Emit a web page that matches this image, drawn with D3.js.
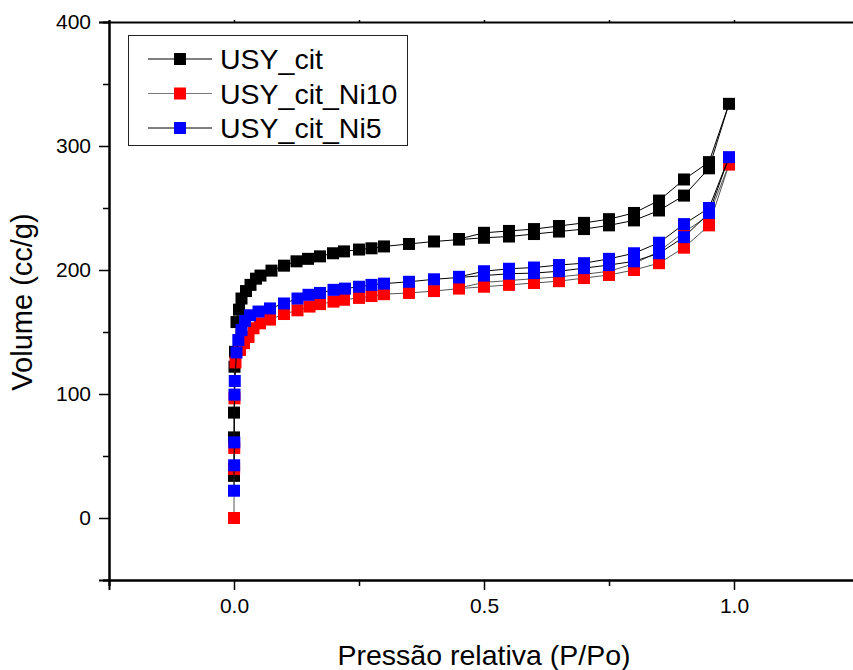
<!DOCTYPE html>
<html lang="en">
<head>
<meta charset="UTF-8">
<title>Isotermas</title>
<script src="https://d3js.org/d3.v7.min.js"></script>
<style>
  body { margin: 0; background: #fff; }
  svg { display: block; font-family: "Liberation Sans", Arial, sans-serif; }
</style>
</head>
<body>
<div id="container"></div>
<script>
// series names
const seriesNames = ["USY_cit", "USY_cit_Ni10", "USY_cit_Ni5"];

// relative pressure (P/Po) and adsorbed volume (cc/g), adsorption then desorption
const pBlack = [0, 0, 0, 0.001, 0.002, 0.005, 0.01, 0.015, 0.024, 0.033, 0.044, 0.053, 0.075, 0.1, 0.125, 0.148, 0.172, 0.198, 0.22, 0.25, 0.275, 0.3, 0.35, 0.4, 0.45, 0.5, 0.55, 0.6, 0.65, 0.7, 0.75, 0.8, 0.85, 0.9, 0.95, 0.99,
                0.95, 0.9, 0.85, 0.8, 0.75, 0.7, 0.65, 0.6, 0.55, 0.5, 0.45];
const vBlack = [34, 65, 85, 122, 134, 158, 168, 177, 183, 188, 193, 195.5, 199.5, 203.5, 207, 209, 211, 213.5, 215, 216.5, 217.5, 219, 221, 223, 224.5, 226, 227, 229, 231, 233, 236, 240, 248, 260, 282, 334,
                287, 273, 256, 246, 241, 238, 235.5, 233, 231.5, 230, 225];

const pRed = [0, 0.0002, 0.0005, 0.001, 0.003, 0.012, 0.02, 0.029, 0.039, 0.052, 0.072, 0.1, 0.127, 0.151, 0.172, 0.199, 0.22, 0.25, 0.275, 0.3, 0.35, 0.4, 0.45, 0.5, 0.55, 0.6, 0.65, 0.7, 0.75, 0.8, 0.85, 0.9, 0.95, 0.99,
              0.95, 0.9, 0.85, 0.8, 0.75, 0.7, 0.65, 0.6, 0.55, 0.5, 0.45];
const vRed = [0, 39.5, 56.5, 96.5, 125.5, 135.5, 141, 146, 153, 157, 160, 164.5, 167.5, 170.5, 172.5, 174.5, 176, 177.5, 179, 180.5, 181.5, 183, 185, 186.5, 188, 189.5, 191, 193.5, 196, 200, 205.5, 218, 236, 285,
              244, 230.5, 215, 205, 199, 196.5, 194.5, 193, 191.5, 190, 185.5];

const pBlue = [0, 0.0003, 0.0006, 0.001, 0.0015, 0.005, 0.0087, 0.015, 0.022, 0.032, 0.049, 0.072, 0.1, 0.127, 0.149, 0.172, 0.199, 0.222, 0.25, 0.275, 0.3, 0.35, 0.4, 0.45, 0.5, 0.55, 0.6, 0.65, 0.7, 0.75, 0.8, 0.85, 0.9, 0.95, 0.99,
               0.95, 0.9, 0.85, 0.8, 0.75, 0.7, 0.65, 0.6, 0.55, 0.5, 0.45];
const vBlue = [22, 42.5, 61, 99.5, 110.5, 133.5, 143.5, 151.5, 159, 163.5, 166.5, 169, 173, 177, 180, 181.5, 184, 185, 186.5, 188, 189, 190.5, 192.5, 194, 195.5, 197, 197.5, 199, 201.5, 204, 207, 213.5, 226.5, 246, 291,
               250, 237, 222, 213.5, 209, 205.5, 204, 202, 201, 199, 194.5];

// axis ticks
const xMajor = [0, 0.5, 1.0];
const xMinor = [-0.25, 0.25, 0.75, 1.25];
const yMajor = [0, 100, 200, 300, 400];
const yMinor = [-50, 50, 150, 250, 350];

const W = 853, H = 670;
const x = d3.scaleLinear().domain([-0.25, 1.25]).range([109, 859]);
const y = d3.scaleLinear().domain([-50, 400]).range([580, 22]);

const svg = d3.select("#container").append("svg").attr("width", W).attr("height", H);

const series = [
  {name: seriesNames[0], p: pBlack, v: vBlack, fill: "#000000", line: "#000000"},
  {name: seriesNames[1], p: pRed, v: vRed, fill: "#ff0000", line: "#555555"},
  {name: seriesNames[2], p: pBlue, v: vBlue, fill: "#0000ff", line: "#000000"}
];

const line = d3.line().x(d => x(d[0])).y(d => y(d[1]));
const ms = 12;

series.forEach(s => {
  const pts = s.p.map((p, i) => [p, s.v[i]]);
  const g = svg.append("g");
  g.append("path").datum(pts)
    .attr("d", line).attr("fill", "none")
    .attr("stroke", s.line).attr("stroke-width", 1);
  g.selectAll("rect").data(pts).enter().append("rect")
    .attr("x", d => x(d[0]) - ms / 2)
    .attr("y", d => y(d[1]) - ms / 2)
    .attr("width", ms).attr("height", ms)
    .attr("fill", s.fill);
});

// axes
const axisStyle = g => {
  g.select(".domain").attr("stroke", "#000").attr("stroke-width", 2);
  g.selectAll(".tick line").attr("stroke", "#000").attr("stroke-width", 1.5);
  g.selectAll("text").attr("font-size", 21).attr("fill", "#000");
};

svg.append("g").attr("transform", "translate(0,580)")
  .call(d3.axisBottom(x).tickValues(xMajor).tickSize(10).tickPadding(8).tickFormat(d3.format(".1f")))
  .call(axisStyle);
svg.append("g").attr("transform", "translate(0,580)")
  .call(d3.axisBottom(x).tickValues(xMinor).tickSize(6).tickFormat(""))
  .call(axisStyle);

svg.append("g").attr("transform", "translate(109,0)")
  .call(d3.axisLeft(y).tickValues(yMajor).tickSize(10).tickPadding(8).tickFormat(d3.format("d")))
  .call(axisStyle);
svg.append("g").attr("transform", "translate(109,0)")
  .call(d3.axisLeft(y).tickValues(yMinor).tickSize(6).tickFormat(""))
  .call(axisStyle);

// top frame
svg.append("g").attr("transform", "translate(0,22)")
  .call(d3.axisTop(x).tickValues(xMajor.concat(xMinor)).tickSize(2).tickFormat(""))
  .call(axisStyle);

// axis titles
svg.append("text")
  .attr("x", x(0.5)).attr("y", 665)
  .attr("text-anchor", "middle").attr("font-size", 28.5)
  .text("Pressão relativa (P/Po)");
svg.append("text")
  .attr("transform", "translate(32,302) rotate(-90)")
  .attr("text-anchor", "middle").attr("font-size", 29)
  .text("Volume (cc/g)");

// legend
const leg = svg.append("g");
leg.append("rect").attr("x", 128.5).attr("y", 35.5).attr("width", 279).attr("height", 110)
  .attr("fill", "#fff").attr("stroke", "#222").attr("stroke-width", 1);
series.forEach((s, i) => {
  const cy = 59 + i * 34.5;
  leg.append("line").attr("x1", 148).attr("x2", 212).attr("y1", cy).attr("y2", cy)
    .attr("stroke", i === 1 ? "#777" : "#000").attr("stroke-width", 1);
  leg.append("rect").attr("x", 180 - ms / 2).attr("y", cy - ms / 2)
    .attr("width", ms).attr("height", ms).attr("fill", s.fill);
  leg.append("text").attr("x", 220).attr("y", cy + 10)
    .attr("font-size", 28.5).text(s.name);
});
</script>
</body>
</html>
